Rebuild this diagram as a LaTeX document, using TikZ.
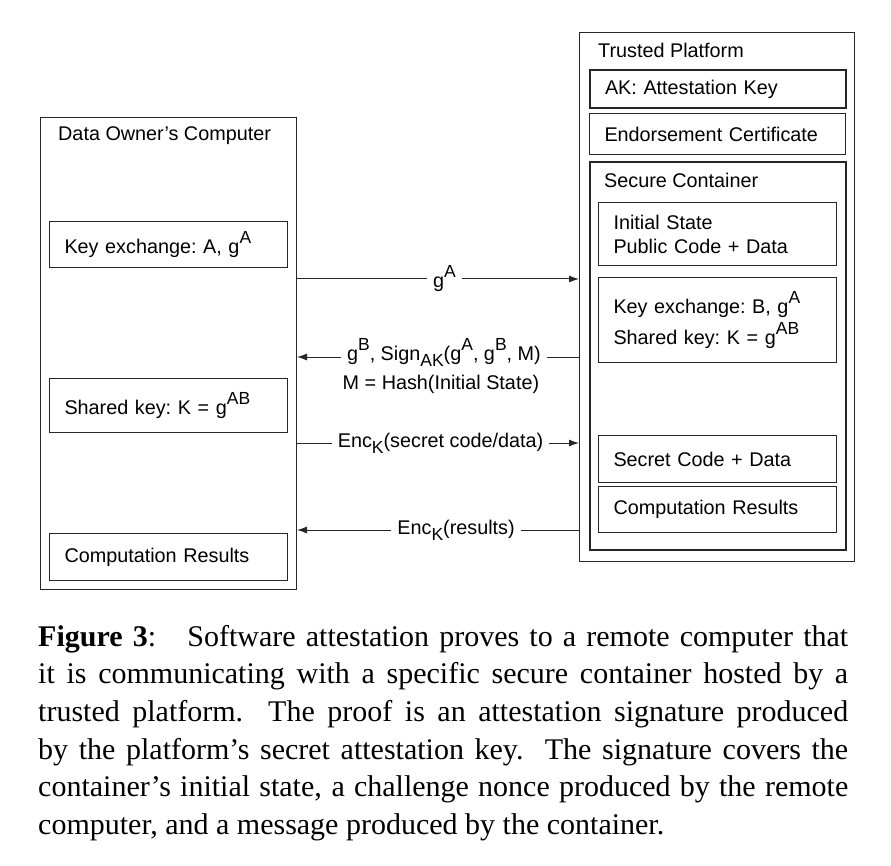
\documentclass[tikz,border=0pt]{standalone}
\usepackage{fontspec}
\setmainfont{Liberation Serif}
\newfontfamily\diagfont{Liberation Sans}
\usetikzlibrary{arrows.meta, positioning, calc}

% raised / lowered indices in the sans labels
\newcommand{\upidx}[1]{\raisebox{10pt}{\fontsize{17.5}{17.5}\selectfont #1}}
\newcommand{\dnidx}[1]{\raisebox{-6pt}{\fontsize{17.5}{17.5}\selectfont #1}}

\begin{document}
\begin{tikzpicture}[x=1pt, y=-1pt,
    every node/.style={font=\diagfont\frenchspacing\fontsize{19.8}{24}\selectfont},
    frame/.style={draw=black!85, line width=1pt, anchor=north west, inner sep=0pt},
    heavyframe/.style={frame, line width=2pt},
    field/.style={draw=black!85, line width=1pt, anchor=north west, inner xsep=15pt, inner ysep=0pt, align=left},
    title/.style={anchor=west, inner sep=0pt},
    msg/.style={draw=black!85, line width=1pt, -{Latex[length=10pt,width=7pt]}},
    lbl/.style={fill=white, inner xsep=6pt, inner ysep=1pt}]
    \useasboundingbox (0,0) rectangle (891,866);

    % Data owner's computer
    \node[frame, minimum width=256pt, minimum height=472pt] (owner) at (40,117) {};
    \node[title] (ownerT) at ($(owner.north west)+(18,19)$) {Data Owner’s Computer};
    \node[field, text width=208pt, minimum height=46pt] (ownKey) at (49,221) {Key exchange: A, g\upidx{A}};
    \node[field, text width=208pt, minimum height=54pt] (ownShared) at (49,378) {Shared key: K = g\upidx{AB}};
    \node[field, text width=208pt, minimum height=47pt] (ownRes) at (49,533) {Computation Results};

    % Trusted platform
    \node[frame, minimum width=275pt, minimum height=529pt] (platform) at (579,32) {};
    \node[title] (platformT) at ($(platform.north west)+(19,18)$) {Trusted Platform};
    \node[field, line width=2pt, text width=226pt, minimum height=38pt] (ak) at (589,69) {AK: Attestation Key};
    \node[field, text width=226pt, minimum height=41pt] (cert) at (589,113) {Endorsement Certificate};

    % Secure container
    \node[heavyframe, minimum width=256pt, minimum height=388pt] (container) at (589,161) {};
    \node[title] (containerT) at ($(container.north west)+(15,19)$) {Secure Container};
    \node[field, text width=208pt, minimum height=63pt] (init) at (598,202) {Initial State\\Public Code + Data};
    \node[field, text width=208pt, minimum height=85pt] (conKey) at (598,277) {Key exchange: B, g\upidx{A}\\[4pt]Shared key: K = g\upidx{AB}};
    \node[field, text width=208pt, minimum height=47pt] (secret) at (598,435) {Secret Code + Data};
    \node[field, text width=208pt, minimum height=46pt] (conRes) at (598,486) {Computation Results};

    % messages
    \coordinate (m1) at (0,279);
    \coordinate (m2) at (0,357);
    \coordinate (m3) at (0,443);
    \coordinate (m4) at (0,530);
    \draw[msg] (m1 -| owner.east) -- node[lbl, pos=0.523] (gA) {g\upidx{A}} (m1 -| platform.west);
    \draw[msg] (m2 -| platform.west) -- node[lbl, pos=0.479, yshift=5pt] (gB) {g\upidx{B}, Sign\dnidx{AK}(g\upidx{A}, g\upidx{B}, M)} (m2 -| owner.east);
    \node[inner sep=0pt, below=7pt of gB, xshift=-3pt] (hash) {M = Hash(Initial State)};
    \draw[msg] (m3 -| owner.east) -- node[lbl, pos=0.509] (encS) {Enc\dnidx{K}(secret code/data)} (m3 -| platform.west);
    \draw[msg] (m4 -| platform.west) -- node[lbl, pos=0.436] (encR) {Enc\dnidx{K}(results)} (m4 -| owner.east);

    % caption
    \node[anchor=north west, inner sep=0pt, text width=810pt, align=justify,
          font=\rmfamily\fontsize{30}{37.6}\selectfont] (caption) at (38,625)
    {\noindent\textbf{Figure 3}:\hspace{16pt} Software attestation proves to a remote computer that\linebreak
     it is communicating with a specific secure container hosted by a\linebreak
     trusted platform.\ \ The proof is an attestation signature produced\linebreak
     by the platform’s secret attestation key.\ \ The signature covers the\linebreak
     container’s initial state, a challenge nonce produced by the remote\linebreak
     computer, and a message produced by the container.};
\end{tikzpicture}
\end{document}
